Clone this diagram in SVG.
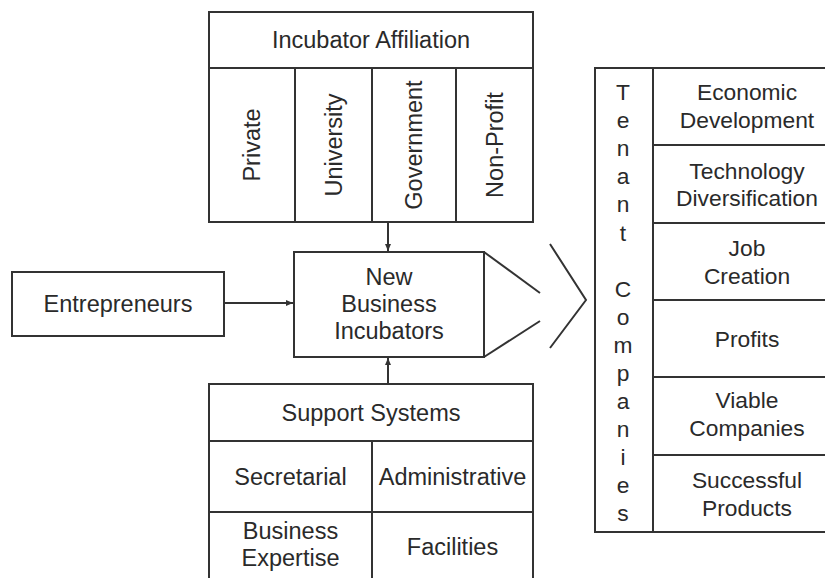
<svg xmlns="http://www.w3.org/2000/svg" width="825" height="578" viewBox="0 0 825 578">
<style>
.b{fill:none;stroke:#333;stroke-width:2}
.l{stroke:#333;stroke-width:2;fill:none}
text{font-family:"Liberation Sans",Arial,sans-serif;font-size:23.5px;fill:#2a2a2a;text-anchor:middle;dominant-baseline:central}
.t text{font-size:22.8px}
</style>
<defs>
<marker id="ah" markerWidth="8" markerHeight="8" refX="7" refY="4" orient="auto" markerUnits="userSpaceOnUse">
<path d="M0,1 L7,4 L0,7 Z" fill="#333"/>
</marker>
</defs>
<rect width="825" height="578" fill="#fff"/>
<g id="affiliation">
<rect class="b" x="209" y="12" width="324" height="210"/>
<line class="l" x1="209" y1="68" x2="533" y2="68"/>
<line class="l" x1="295" y1="68" x2="295" y2="222"/>
<line class="l" x1="372" y1="68" x2="372" y2="222"/>
<line class="l" x1="456" y1="68" x2="456" y2="222"/>
<text x="371" y="40">Incubator Affiliation</text>
<text transform="translate(252,145) rotate(-90)">Private</text>
<text transform="translate(333.5,145) rotate(-90)">University</text>
<text transform="translate(414,145) rotate(-90)">Government</text>
<text transform="translate(494.5,145) rotate(-90)">Non-Profit</text>
</g>
<g id="entrepreneurs">
<rect class="b" x="12" y="272" width="212" height="64"/>
<text x="118" y="304">Entrepreneurs</text>
</g>
<g id="incubators">
<rect class="b" x="294" y="252" width="190" height="105"/>
<line class="l" x1="484" y1="252" x2="540" y2="293"/>
<line class="l" x1="484" y1="357" x2="540" y2="321"/>
<text x="389" y="277">New</text>
<text x="389" y="304">Business</text>
<text x="389" y="331">Incubators</text>
</g>
<g id="chevron">
<polyline class="l" points="550,244 586,300 550,348"/>
</g>
<g id="support">
<rect class="b" x="209" y="384" width="324" height="210"/>
<line class="l" x1="209" y1="441" x2="533" y2="441"/>
<line class="l" x1="209" y1="512" x2="533" y2="512"/>
<line class="l" x1="372" y1="441" x2="372" y2="594"/>
<text x="371" y="412.5">Support Systems</text>
<text x="290.5" y="476.5">Secretarial</text>
<text x="452.5" y="476.5">Administrative</text>
<text x="290.5" y="531">Business</text>
<text x="290.5" y="558">Expertise</text>
<text x="452.5" y="547">Facilities</text>
</g>
<g id="tenants" class="t">
<rect class="b" x="595" y="68" width="250" height="464"/>
<line class="l" x1="653" y1="68" x2="653" y2="532"/>
<line class="l" x1="653" y1="145" x2="825" y2="145"/>
<line class="l" x1="653" y1="223" x2="825" y2="223"/>
<line class="l" x1="653" y1="300" x2="825" y2="300"/>
<line class="l" x1="653" y1="377" x2="825" y2="377"/>
<line class="l" x1="653" y1="455" x2="825" y2="455"/>
<text x="623" y="92">T</text>
<text x="623" y="120">e</text>
<text x="623" y="148">n</text>
<text x="623" y="176">a</text>
<text x="623" y="204">n</text>
<text x="623" y="233">t</text>
<text x="623" y="289">C</text>
<text x="623" y="317">o</text>
<text x="623" y="345">m</text>
<text x="623" y="373">p</text>
<text x="623" y="401">a</text>
<text x="623" y="429">n</text>
<text x="623" y="457">i</text>
<text x="623" y="485">e</text>
<text x="623" y="513">s</text>
<text x="747" y="92">Economic</text>
<text x="747" y="120">Development</text>
<text x="747" y="171">Technology</text>
<text x="747" y="198">Diversification</text>
<text x="747" y="248">Job</text>
<text x="747" y="276">Creation</text>
<text x="747" y="339">Profits</text>
<text x="747" y="400">Viable</text>
<text x="747" y="428">Companies</text>
<text x="747" y="480">Successful</text>
<text x="747" y="508">Products</text>
</g>
<g id="connectors">
<line class="l" x1="388" y1="222" x2="388" y2="251" marker-end="url(#ah)"/>
<line class="l" x1="224" y1="303" x2="293" y2="303" marker-end="url(#ah)"/>
<line class="l" x1="388" y1="384" x2="388" y2="358" marker-end="url(#ah)"/>
</g>
</svg>
